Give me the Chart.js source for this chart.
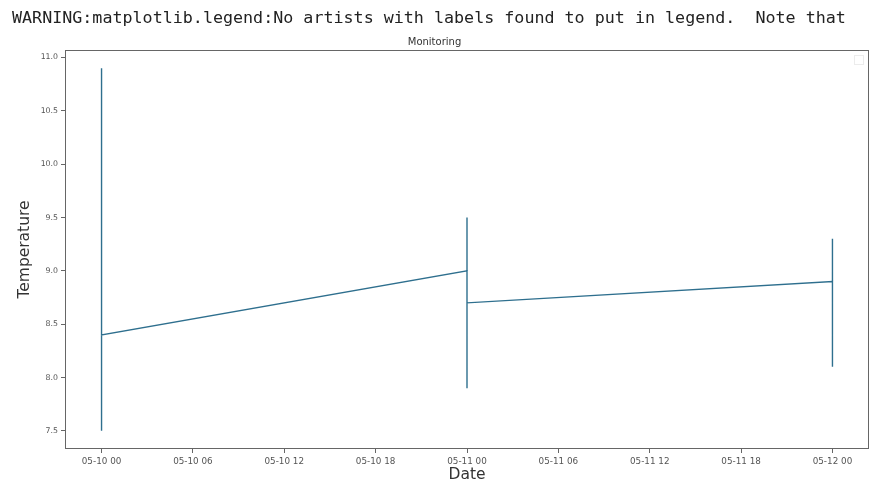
<!DOCTYPE html>
<html>
<head>
<meta charset="utf-8">
<script src="https://cdn.jsdelivr.net/npm/chart.js@4"></script>
<style>
  body { margin: 0; background: #fff; }
  #warn {
    position: absolute; left: 12px; top: 7px;
    font: 16.7px 'DejaVu Sans Mono', monospace; line-height: 20px;
    color: #222; white-space: pre;
  }
  #wrap { position: absolute; left: 0; top: 0; width: 871px; height: 483px; }
</style>
</head>
<body>
<div id="wrap"><canvas id="tempChart" width="871" height="483"></canvas></div>
<div id="warn">WARNING:matplotlib.legend:No artists with labels found to put in legend.  Note that</div>
<script>
// readings (several per day, same timestamp)
const dates = ['05-10', '05-10', '05-10', '05-11', '05-11', '05-11', '05-11', '05-12', '05-12', '05-12'];
const temps = [10.9, 7.5, 8.4, 9.0, 9.5, 7.9, 8.7, 8.9, 9.3, 8.1];

const xTickLabels = ['05-10 00', '05-10 06', '05-10 12', '05-10 18', '05-11 00',
                     '05-11 06', '05-11 12', '05-11 18', '05-12 00'];
const yTicks = [7.5, 8.0, 8.5, 9.0, 9.5, 10.0, 10.5, 11.0];

// hours since 05-10 00
const hoursOf = d => (parseInt(d.slice(3), 10) - 10) * 24;
const points = dates.map((d, i) => ({ x: hoursOf(d), y: temps[i] }));

// frame around the plot + the empty legend box
const frame = {
  id: 'frame',
  afterDraw(chart) {
    const { ctx, chartArea: a } = chart;
    ctx.save();
    ctx.strokeStyle = '#666';
    ctx.lineWidth = 1;
    ctx.strokeRect(Math.round(a.left) + 0.5, Math.round(a.top) + 0.5,
                   Math.round(a.right - a.left) - 1, Math.round(a.bottom - a.top) - 1);
    ctx.strokeStyle = '#ececec';
    ctx.strokeRect(a.right - 14.5, a.top + 5.5, 9, 9);
    ctx.restore();
  }
};

new Chart(document.getElementById('tempChart'), {
  type: 'line',
  data: {
    datasets: [{
      data: points,
      borderColor: '#2e6f8e',
      borderWidth: 1.4,
      pointRadius: 0,
      tension: 0
    }]
  },
  options: {
    responsive: false,
    animation: false,
    layout: { padding: { left: 0, right: 2, top: 0, bottom: 0 } },
    plugins: {
      legend: { display: false },
      tooltip: { enabled: false },
      title: {
        display: true,
        text: 'Monitoring',
        color: '#333',
        font: { family: 'DejaVu Sans', size: 10, weight: 'normal', lineHeight: 1.2 },
        padding: { top: 36, bottom: 2 }
      }
    },
    scales: {
      x: {
        type: 'linear',
        min: -2.4,
        max: 50.4,
        afterBuildTicks: axis => { axis.ticks = xTickLabels.map((_, i) => ({ value: i * 6 })); },
        afterFit: axis => { axis.height = 34; },
        ticks: {
          callback: (v, i) => xTickLabels[i],
          color: '#555',
          font: { family: 'DejaVu Sans', size: 8.8 },
          padding: 3,
          maxRotation: 0,
          autoSkip: false
        },
        grid: { drawOnChartArea: false, drawTicks: true, tickLength: 4, color: '#666' },
        border: { display: false },
        title: {
          display: true,
          text: 'Date',
          color: '#333',
          font: { family: 'DejaVu Sans', size: 15.5, lineHeight: 1 },
          padding: { top: 0, bottom: 0 }
        }
      },
      y: {
        min: 7.33,
        max: 11.07,
        afterBuildTicks: axis => { axis.ticks = yTicks.map(v => ({ value: v })); },
        afterFit: axis => { axis.width = 65; },
        ticks: {
          callback: v => v.toFixed(1),
          color: '#555',
          font: { family: 'DejaVu Sans', size: 7.8 },
          padding: 3
        },
        grid: { drawOnChartArea: false, drawTicks: true, tickLength: 4, color: '#666' },
        border: { display: false },
        title: {
          display: true,
          text: 'Temperature',
          color: '#333',
          font: { family: 'DejaVu Sans', size: 15.5, lineHeight: 1 },
          padding: { top: 17, bottom: 0 }
        }
      }
    }
  },
  plugins: [frame]
});
</script>
</body>
</html>
